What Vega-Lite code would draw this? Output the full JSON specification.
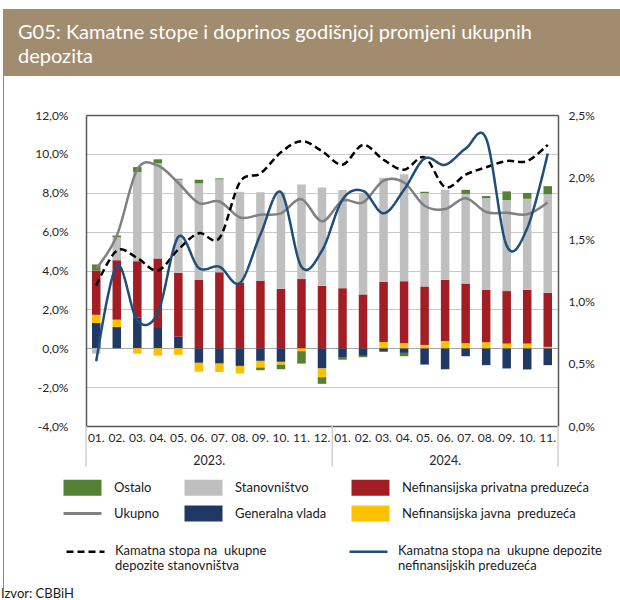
{
  "$schema": "https://vega.github.io/schema/vega-lite/v6.json",
  "padding": {"left": 1, "top": 9, "right": 0, "bottom": 0},
  "background": "white",
  "config": {
    "font": "Lato",
    "view": {"stroke": null},
    "axis": {"labelFontSize": 12, "labelColor": "#262626", "labelFont": "Lato"},
    "legend": {"labelFont": "Lato"}
  },
  "title": {"text": "Izvor: CBBiH", "orient": "bottom", "anchor": "start", "frame": "group", "fontSize": 13, "fontWeight": "normal", "color": "#1a1a1a", "offset": 0, "dx": 0},
  "datasets": {
    "bars": [
      {"m":"2023-01","s":"Generalna vlada","v":1.30},{"m":"2023-01","s":"Nefinansijska javna\u00a0 preduzeća","v":0.42},{"m":"2023-01","s":"Nefinansijska privatna preduzeća","v":2.28},{"m":"2023-01","s":"Stanovništvo","v":-0.28},{"m":"2023-01","s":"Ostalo","v":0.31},
      {"m":"2023-02","s":"Generalna vlada","v":1.09},{"m":"2023-02","s":"Nefinansijska javna\u00a0 preduzeća","v":0.38},{"m":"2023-02","s":"Nefinansijska privatna preduzeća","v":3.06},{"m":"2023-02","s":"Stanovništvo","v":1.18},{"m":"2023-02","s":"Ostalo","v":0.09},
      {"m":"2023-03","s":"Generalna vlada","v":1.57},{"m":"2023-03","s":"Nefinansijska javna\u00a0 preduzeća","v":-0.28},{"m":"2023-03","s":"Nefinansijska privatna preduzeća","v":2.91},{"m":"2023-03","s":"Stanovništvo","v":4.59},{"m":"2023-03","s":"Ostalo","v":0.25},
      {"m":"2023-04","s":"Generalna vlada","v":1.09},{"m":"2023-04","s":"Nefinansijska javna\u00a0 preduzeća","v":-0.38},{"m":"2023-04","s":"Nefinansijska privatna preduzeća","v":3.53},{"m":"2023-04","s":"Stanovništvo","v":4.90},{"m":"2023-04","s":"Ostalo","v":0.20},
      {"m":"2023-05","s":"Generalna vlada","v":0.60},{"m":"2023-05","s":"Nefinansijska javna\u00a0 preduzeća","v":-0.34},{"m":"2023-05","s":"Nefinansijska privatna preduzeća","v":3.28},{"m":"2023-05","s":"Stanovništvo","v":4.79},{"m":"2023-05","s":"Ostalo","v":0.05},
      {"m":"2023-06","s":"Generalna vlada","v":-0.75},{"m":"2023-06","s":"Nefinansijska javna\u00a0 preduzeća","v":-0.46},{"m":"2023-06","s":"Nefinansijska privatna preduzeća","v":3.51},{"m":"2023-06","s":"Stanovništvo","v":4.97},{"m":"2023-06","s":"Ostalo","v":0.19},
      {"m":"2023-07","s":"Generalna vlada","v":-0.79},{"m":"2023-07","s":"Nefinansijska javna\u00a0 preduzeća","v":-0.43},{"m":"2023-07","s":"Nefinansijska privatna preduzeća","v":3.91},{"m":"2023-07","s":"Stanovništvo","v":4.78},{"m":"2023-07","s":"Ostalo","v":0.05},
      {"m":"2023-08","s":"Generalna vlada","v":-0.91},{"m":"2023-08","s":"Nefinansijska javna\u00a0 preduzeća","v":-0.39},{"m":"2023-08","s":"Nefinansijska privatna preduzeća","v":3.38},{"m":"2023-08","s":"Stanovništvo","v":4.67},
      {"m":"2023-09","s":"Generalna vlada","v":-0.65},{"m":"2023-09","s":"Nefinansijska javna\u00a0 preduzeća","v":-0.34},{"m":"2023-09","s":"Nefinansijska privatna preduzeća","v":3.46},{"m":"2023-09","s":"Stanovništvo","v":4.56},{"m":"2023-09","s":"Ostalo","v":-0.14},
      {"m":"2023-10","s":"Generalna vlada","v":-0.70},{"m":"2023-10","s":"Nefinansijska javna\u00a0 preduzeća","v":-0.14},{"m":"2023-10","s":"Nefinansijska privatna preduzeća","v":3.06},{"m":"2023-10","s":"Stanovništvo","v":4.96},{"m":"2023-10","s":"Ostalo","v":-0.24},
      {"m":"2023-11","s":"Nefinansijska javna\u00a0 preduzeća","v":-0.15},{"m":"2023-11","s":"Nefinansijska privatna preduzeća","v":3.56},{"m":"2023-11","s":"Stanovništvo","v":4.87},{"m":"2023-11","s":"Ostalo","v":-0.64},
      {"m":"2023-12","s":"Generalna vlada","v":-1.04},{"m":"2023-12","s":"Nefinansijska javna\u00a0 preduzeća","v":-0.45},{"m":"2023-12","s":"Nefinansijska privatna preduzeća","v":3.21},{"m":"2023-12","s":"Stanovništvo","v":5.06},{"m":"2023-12","s":"Ostalo","v":-0.34},
      {"m":"2024-01","s":"Generalna vlada","v":-0.45},{"m":"2024-01","s":"Nefinansijska privatna preduzeća","v":3.09},{"m":"2024-01","s":"Stanovništvo","v":5.05},{"m":"2024-01","s":"Ostalo","v":-0.14},
      {"m":"2024-02","s":"Generalna vlada","v":-0.39},{"m":"2024-02","s":"Nefinansijska privatna preduzeća","v":2.77},{"m":"2024-02","s":"Stanovništvo","v":5.20},{"m":"2024-02","s":"Ostalo","v":-0.07},
      {"m":"2024-03","s":"Generalna vlada","v":-0.14},{"m":"2024-03","s":"Nefinansijska javna\u00a0 preduzeća","v":0.32},{"m":"2024-03","s":"Nefinansijska privatna preduzeća","v":3.10},{"m":"2024-03","s":"Stanovništvo","v":5.35},{"m":"2024-03","s":"Ostalo","v":-0.05},
      {"m":"2024-04","s":"Generalna vlada","v":-0.24},{"m":"2024-04","s":"Nefinansijska javna\u00a0 preduzeća","v":0.26},{"m":"2024-04","s":"Nefinansijska privatna preduzeća","v":3.19},{"m":"2024-04","s":"Stanovništvo","v":5.50},{"m":"2024-04","s":"Ostalo","v":-0.17},
      {"m":"2024-05","s":"Generalna vlada","v":-0.84},{"m":"2024-05","s":"Nefinansijska javna\u00a0 preduzeća","v":0.17},{"m":"2024-05","s":"Nefinansijska privatna preduzeća","v":3.01},{"m":"2024-05","s":"Stanovništvo","v":4.80},{"m":"2024-05","s":"Ostalo","v":0.07},
      {"m":"2024-06","s":"Generalna vlada","v":-1.08},{"m":"2024-06","s":"Nefinansijska javna\u00a0 preduzeća","v":0.37},{"m":"2024-06","s":"Nefinansijska privatna preduzeća","v":3.15},{"m":"2024-06","s":"Stanovništvo","v":4.63},
      {"m":"2024-07","s":"Generalna vlada","v":-0.41},{"m":"2024-07","s":"Nefinansijska javna\u00a0 preduzeća","v":0.26},{"m":"2024-07","s":"Nefinansijska privatna preduzeća","v":3.07},{"m":"2024-07","s":"Stanovništvo","v":4.61},{"m":"2024-07","s":"Ostalo","v":0.21},
      {"m":"2024-08","s":"Generalna vlada","v":-0.87},{"m":"2024-08","s":"Nefinansijska javna\u00a0 preduzeća","v":0.31},{"m":"2024-08","s":"Nefinansijska privatna preduzeća","v":2.70},{"m":"2024-08","s":"Stanovništvo","v":4.71},{"m":"2024-08","s":"Ostalo","v":0.11},
      {"m":"2024-09","s":"Generalna vlada","v":-1.04},{"m":"2024-09","s":"Nefinansijska javna\u00a0 preduzeća","v":0.24},{"m":"2024-09","s":"Nefinansijska privatna preduzeća","v":2.70},{"m":"2024-09","s":"Stanovništvo","v":4.68},{"m":"2024-09","s":"Ostalo","v":0.45},
      {"m":"2024-10","s":"Generalna vlada","v":-1.09},{"m":"2024-10","s":"Nefinansijska javna\u00a0 preduzeća","v":0.24},{"m":"2024-10","s":"Nefinansijska privatna preduzeća","v":2.77},{"m":"2024-10","s":"Stanovništvo","v":4.68},{"m":"2024-10","s":"Ostalo","v":0.30},
      {"m":"2024-11","s":"Generalna vlada","v":-0.87},{"m":"2024-11","s":"Nefinansijska javna\u00a0 preduzeća","v":0.07},{"m":"2024-11","s":"Nefinansijska privatna preduzeća","v":2.78},{"m":"2024-11","s":"Stanovništvo","v":5.08},{"m":"2024-11","s":"Ostalo","v":0.41}
    ],
    "lines": [
      {"m":"2023-01","uk":4.1,"stan":1.13,"nef":0.52},
      {"m":"2023-02","uk":5.79,"stan":1.41,"nef":1.29},
      {"m":"2023-03","uk":9.2,"stan":1.35,"nef":0.85},
      {"m":"2023-04","uk":9.4,"stan":1.25,"nef":0.91},
      {"m":"2023-05","uk":8.5,"stan":1.42,"nef":1.52},
      {"m":"2023-06","uk":7.47,"stan":1.55,"nef":1.27},
      {"m":"2023-07","uk":7.55,"stan":1.51,"nef":1.28},
      {"m":"2023-08","uk":6.73,"stan":1.96,"nef":1.15},
      {"m":"2023-09","uk":6.87,"stan":2.03,"nef":1.54},
      {"m":"2023-10","uk":6.94,"stan":2.20,"nef":1.88},
      {"m":"2023-11","uk":7.67,"stan":2.29,"nef":1.28},
      {"m":"2023-12","uk":6.53,"stan":2.21,"nef":1.41},
      {"m":"2024-01","uk":7.59,"stan":2.10,"nef":1.82},
      {"m":"2024-02","uk":7.5,"stan":2.26,"nef":1.89},
      {"m":"2024-03","uk":8.62,"stan":2.14,"nef":1.71},
      {"m":"2024-04","uk":8.53,"stan":2.06,"nef":1.90},
      {"m":"2024-05","uk":7.33,"stan":2.16,"nef":2.15},
      {"m":"2024-06","uk":7.16,"stan":1.92,"nef":2.10},
      {"m":"2024-07","uk":7.72,"stan":2.02,"nef":2.23},
      {"m":"2024-08","uk":7.01,"stan":2.08,"nef":2.31},
      {"m":"2024-09","uk":6.97,"stan":2.13,"nef":1.45},
      {"m":"2024-10","uk":6.89,"stan":2.13,"nef":1.59},
      {"m":"2024-11","uk":7.50,"stan":2.26,"nef":2.19}
    ]
  },
  "spacing": 0,
  "hconcat": [
    {
      "width": 2,
      "height": 579,
      "view": {"stroke": null},
      "data": {"values": [{}]},
      "mark": {"type": "point", "size": 0, "strokeWidth": 0, "filled": true, "opacity": 0}
    },
    {
      "width": 1,
      "height": 579,
      "view": {"fill": "#8C8C8C", "stroke": null},
      "data": {"values": [{}]},
      "mark": {"type": "point", "size": 0, "strokeWidth": 0, "filled": true, "opacity": 0}
    },
    {
      "concat": [
        {
          "width": 616,
          "height": 67,
          "view": {"fill": "#A28C70", "stroke": null},
          "data": {"values": [{}]},
          "mark": {"type": "point", "size": 0, "strokeWidth": 0, "filled": true, "opacity": 0},
          "title": {
            "text": ["G05: Kamatne stope i doprinos godišnjoj promjeni ukupnih", "depozita"],
            "anchor": "start", "orient": "top", "frame": "group",
            "offset": -58, "dx": 14,
            "color": "#FFFFFF", "font": "Lato", "fontSize": 20, "fontWeight": "normal", "lineHeight": 24
          }
        },
        {
          "width": 554,
          "height": 311,
          "view": {"stroke": null},
          "resolve": {"scale": {"y": "independent"}, "axis": {"x": "independent"}},
          "layer": [
            {
              "layer": [
                {
                  "data": {"name": "bars"},
                  "transform": [{"calculate": "indexof(['Generalna vlada','Nefinansijska javna\u00a0 preduzeća','Nefinansijska privatna preduzeća','Stanovništvo','Ostalo'], datum.s)", "as": "ord"}],
                  "mark": {"type": "bar", "size": 8.5},
                  "encoding": {
                    "x": {
                      "field": "m", "type": "nominal",
                      "scale": {"type": "band", "paddingInner": 0, "paddingOuter": 0, "range": [82, 554],
                        "domain": ["2023-01","2023-02","2023-03","2023-04","2023-05","2023-06","2023-07","2023-08","2023-09","2023-10","2023-11","2023-12","2024-01","2024-02","2024-03","2024-04","2024-05","2024-06","2024-07","2024-08","2024-09","2024-10","2024-11"]},
                      "axis": {"title": null, "orient": "bottom", "labelExpr": "substring(datum.value, 5) + '.'", "labelAngle": 0, "ticks": false, "domain": true, "domainColor": "#595959", "domainWidth": 1.5, "grid": false, "labelPadding": 6, "labelFontSize": 12, "labelOverlap": false}
                    },
                    "y": {
                      "field": "v", "type": "quantitative", "stack": "zero",
                      "scale": {"domain": [-4, 12], "nice": false, "zero": false},
                      "axis": {
                        "title": null, "values": [-4,-2,0,2,4,6,8,10,12], "labelOverlap": false, "offset": -82,
                        "labelExpr": "replace(replace(format(datum.value, '.1f'), '.', ','), '−', '-') + '%'",
                        "grid": true,
                        "gridColor": {"condition": {"test": "datum.value === 0", "value": "#A6A6A6"}, "value": "#C8C8C8"},
                        "gridOpacity": {"condition": {"test": "datum.value === 12 || datum.value === -4", "value": 0}, "value": 1},
                        "gridWidth": 1.2, "ticks": false, "domain": true, "domainColor": "#595959", "domainWidth": 1.5, "labelPadding": 18
                      }
                    },
                    "color": {
                      "field": "s", "type": "nominal",
                      "scale": {
                        "domain": ["Ostalo","Stanovništvo","Nefinansijska privatna preduzeća","Ukupno","Generalna vlada","Nefinansijska javna\u00a0 preduzeća"],
                        "range": ["#548235","#BFBFBF","#A31D24","#808080","#1F3864","#FFC000"]
                      },
                      "legend": {
                        "title": null, "orient": "none", "legendX": 64, "legendY": 472,
                        "direction": "horizontal", "columns": 3, "columnPadding": 24, "rowPadding": 9,
                        "padding": 0,
                        "symbolSize": 256, "symbolStrokeWidth": 0, "symbolOffset": 11,
                        "labelOffset": 25, "labelFontSize": 13, "labelColor": "#1a1a1a", "labelLimit": 400,
                        "encode": {
                          "symbols": {"update": {
                            "shape": {"signal": "datum.value === 'Ukupno' ? 'M-2.375,0H2.375' : 'M-2.375,-1H2.375V1H-2.375Z'"},
                            "fill": {"scale": "color", "field": "value"},
                            "stroke": {"signal": "datum.value === 'Ukupno' ? '#808080' : 'transparent'"},
                            "strokeWidth": {"signal": "datum.value === 'Ukupno' ? 3 : 0"},
                            "opacity": {"value": 1}
                          }}
                        }
                      }
                    },
                    "order": {"field": "ord", "type": "quantitative"}
                  }
                },
                {
                  "data": {"name": "lines"},
                  "mark": {"type": "line", "interpolate": "cardinal", "tension": 0, "strokeWidth": 2.5},
                  "encoding": {
                    "x": {"field": "m", "type": "nominal",
                      "axis": {"title": null, "orient": "bottom", "labelExpr": "substring(datum.value, 5) + '.'", "labelAngle": 0, "ticks": false, "domain": true, "domainColor": "#595959", "domainWidth": 1.5, "grid": false, "labelPadding": 6, "labelFontSize": 12, "labelOverlap": false}},
                    "y": {"field": "uk", "type": "quantitative",
                      "axis": {
                        "title": null, "values": [-4,-2,0,2,4,6,8,10,12], "labelOverlap": false, "offset": -82,
                        "labelExpr": "replace(replace(format(datum.value, '.1f'), '.', ','), '−', '-') + '%'",
                        "grid": true,
                        "gridColor": {"condition": {"test": "datum.value === 0", "value": "#A6A6A6"}, "value": "#C8C8C8"},
                        "gridOpacity": {"condition": {"test": "datum.value === 12 || datum.value === -4", "value": 0}, "value": 1},
                        "gridWidth": 1.2, "ticks": false, "domain": true, "domainColor": "#595959", "domainWidth": 1.5, "labelPadding": 18
                      }},
                    "color": {"datum": "Ukupno", "type": "nominal"}
                  }
                },
                {
                  "data": {"values": [{"m": "2023-01"}, {"m": "2024-01"}]},
                  "mark": {"type": "rule", "color": "#D0D0D0", "strokeWidth": 1.5},
                  "encoding": {
                    "x": {"field": "m", "type": "nominal", "bandPosition": 0,
                      "axis": {"title": null, "orient": "bottom", "labelExpr": "substring(datum.value, 5) + '.'", "labelAngle": 0, "ticks": false, "domain": true, "domainColor": "#595959", "domainWidth": 1.5, "grid": false, "labelPadding": 6, "labelFontSize": 12, "labelOverlap": false}},
                    "y": {"datum": -4,
                      "axis": {
                        "title": null, "values": [-4,-2,0,2,4,6,8,10,12], "labelOverlap": false, "offset": -82,
                        "labelExpr": "replace(replace(format(datum.value, '.1f'), '.', ','), '−', '-') + '%'",
                        "grid": true,
                        "gridColor": {"condition": {"test": "datum.value === 0", "value": "#A6A6A6"}, "value": "#C8C8C8"},
                        "gridOpacity": {"condition": {"test": "datum.value === 12 || datum.value === -4", "value": 0}, "value": 1},
                        "gridWidth": 1.2, "ticks": false, "domain": true, "domainColor": "#595959", "domainWidth": 1.5, "labelPadding": 18
                      }},
                    "y2": {"datum": -6.1}
                  }
                },
                {
                  "data": {"values": [{"m": "2024-11"}]},
                  "mark": {"type": "rule", "color": "#D0D0D0", "strokeWidth": 1.5},
                  "encoding": {
                    "x": {"field": "m", "type": "nominal", "bandPosition": 1,
                      "axis": {"title": null, "orient": "bottom", "labelExpr": "substring(datum.value, 5) + '.'", "labelAngle": 0, "ticks": false, "domain": true, "domainColor": "#595959", "domainWidth": 1.5, "grid": false, "labelPadding": 6, "labelFontSize": 12, "labelOverlap": false}},
                    "y": {"datum": -4,
                      "axis": {
                        "title": null, "values": [-4,-2,0,2,4,6,8,10,12], "labelOverlap": false, "offset": -82,
                        "labelExpr": "replace(replace(format(datum.value, '.1f'), '.', ','), '−', '-') + '%'",
                        "grid": true,
                        "gridColor": {"condition": {"test": "datum.value === 0", "value": "#A6A6A6"}, "value": "#C8C8C8"},
                        "gridOpacity": {"condition": {"test": "datum.value === 12 || datum.value === -4", "value": 0}, "value": 1},
                        "gridWidth": 1.2, "ticks": false, "domain": true, "domainColor": "#595959", "domainWidth": 1.5, "labelPadding": 18
                      }},
                    "y2": {"datum": -6.1}
                  }
                },
                {
                  "data": {"values": [{"m": "2023-06", "yr": "2023."}]},
                  "mark": {"type": "text", "fontSize": 12.5, "color": "#262626"},
                  "encoding": {
                    "x": {"field": "m", "type": "nominal", "bandPosition": 1,
                      "axis": {"title": null, "orient": "bottom", "labelExpr": "substring(datum.value, 5) + '.'", "labelAngle": 0, "ticks": false, "domain": true, "domainColor": "#595959", "domainWidth": 1.5, "grid": false, "labelPadding": 6, "labelFontSize": 12, "labelOverlap": false}},
                    "y": {"datum": -5.78,
                      "axis": {
                        "title": null, "values": [-4,-2,0,2,4,6,8,10,12], "labelOverlap": false, "offset": -82,
                        "labelExpr": "replace(replace(format(datum.value, '.1f'), '.', ','), '−', '-') + '%'",
                        "grid": true,
                        "gridColor": {"condition": {"test": "datum.value === 0", "value": "#A6A6A6"}, "value": "#C8C8C8"},
                        "gridOpacity": {"condition": {"test": "datum.value === 12 || datum.value === -4", "value": 0}, "value": 1},
                        "gridWidth": 1.2, "ticks": false, "domain": true, "domainColor": "#595959", "domainWidth": 1.5, "labelPadding": 18
                      }},
                    "text": {"field": "yr"}
                  }
                },
                {
                  "data": {"values": [{"m": "2024-06", "yr": "2024."}]},
                  "mark": {"type": "text", "fontSize": 12.5, "color": "#262626"},
                  "encoding": {
                    "x": {"field": "m", "type": "nominal", "bandPosition": 0.5,
                      "axis": {"title": null, "orient": "bottom", "labelExpr": "substring(datum.value, 5) + '.'", "labelAngle": 0, "ticks": false, "domain": true, "domainColor": "#595959", "domainWidth": 1.5, "grid": false, "labelPadding": 6, "labelFontSize": 12, "labelOverlap": false}},
                    "y": {"datum": -5.78,
                      "axis": {
                        "title": null, "values": [-4,-2,0,2,4,6,8,10,12], "labelOverlap": false, "offset": -82,
                        "labelExpr": "replace(replace(format(datum.value, '.1f'), '.', ','), '−', '-') + '%'",
                        "grid": true,
                        "gridColor": {"condition": {"test": "datum.value === 0", "value": "#A6A6A6"}, "value": "#C8C8C8"},
                        "gridOpacity": {"condition": {"test": "datum.value === 12 || datum.value === -4", "value": 0}, "value": 1},
                        "gridWidth": 1.2, "ticks": false, "domain": true, "domainColor": "#595959", "domainWidth": 1.5, "labelPadding": 18
                      }},
                    "text": {"field": "yr"}
                  }
                }
              ]
            },
            {
              "layer": [
                {
                  "data": {"name": "lines"},
                  "mark": {"type": "line", "interpolate": "cardinal", "tension": 0, "strokeWidth": 2.5, "color": "#000000"},
                  "encoding": {
                    "x": {"field": "m", "type": "nominal",
                      "axis": {"title": null, "orient": "top", "labels": false, "ticks": false, "grid": false, "domain": true, "domainColor": "#595959", "domainWidth": 1.5}},
                    "y": {
                      "field": "stan", "type": "quantitative",
                      "scale": {"domain": [0, 2.5], "nice": false},
                      "axis": {"title": null, "orient": "right", "values": [0,0.5,1,1.5,2,2.5],
                        "labelExpr": "replace(format(datum.value, '.1f'), '.', ',') + '%'",
                        "grid": false, "ticks": false, "domain": true, "domainColor": "#595959", "domainWidth": 1.5, "labelPadding": 10}
                    },
                    "strokeDash": {
                      "datum": "Kamatna stopa na\u00a0 ukupne|depozite stanovništva", "type": "nominal",
                      "scale": {"domain": ["Kamatna stopa na\u00a0 ukupne|depozite stanovništva", "Kamatna stopa na\u00a0 ukupne depozite|nefinansijskih preduzeća"], "range": [[7, 4], [1, 0]]},
                      "legend": {
                        "title": null, "orient": "none", "legendX": 64, "legendY": 533,
                        "direction": "horizontal", "columns": 2, "columnPadding": 77,
                        "padding": 0,
                        "symbolType": "M-2.375,0H2.375",
                        "symbolSize": 256, "symbolStrokeWidth": 2.5, "symbolStrokeColor": "#000000", "symbolFillColor": "transparent",
                        "symbolOffset": 11,
                        "labelOffset": 20, "labelFontSize": 13, "labelColor": "#1a1a1a", "labelLimit": 400,
                        "labelBaseline": "top",
                        "labelExpr": "split(datum.label, '|')",
                        "encode": {
                          "symbols": {"update": {
                            "stroke": {"signal": "indexof(datum.value, 'stanovni') >= 0 ? '#000000' : '#1F4E79'"},
                            "strokeWidth": {"value": 2.5},
                            "opacity": {"value": 1}
                          }},
                          "labels": {"update": {"dy": {"value": -7}, "lineHeight": {"value": 15}}}
                        }
                      }
                    }
                  }
                },
                {
                  "data": {"name": "lines"},
                  "mark": {"type": "line", "interpolate": "cardinal", "tension": 0, "strokeWidth": 2.5, "color": "#1F4E79"},
                  "encoding": {
                    "x": {"field": "m", "type": "nominal",
                      "axis": {"title": null, "orient": "top", "labels": false, "ticks": false, "grid": false, "domain": true, "domainColor": "#595959", "domainWidth": 1.5}},
                    "y": {
                      "field": "nef", "type": "quantitative",
                      "axis": {"title": null, "orient": "right", "values": [0,0.5,1,1.5,2,2.5],
                        "labelExpr": "replace(format(datum.value, '.1f'), '.', ',') + '%'",
                        "grid": false, "ticks": false, "domain": true, "domainColor": "#595959", "domainWidth": 1.5, "labelPadding": 10}
                    },
                    "strokeDash": {"datum": "Kamatna stopa na\u00a0 ukupne depozite|nefinansijskih preduzeća", "type": "nominal"}
                  }
                }
              ]
            }
          ]
        }
      ],
      "columns": 1,
      "spacing": 33
    }
  ]
}
